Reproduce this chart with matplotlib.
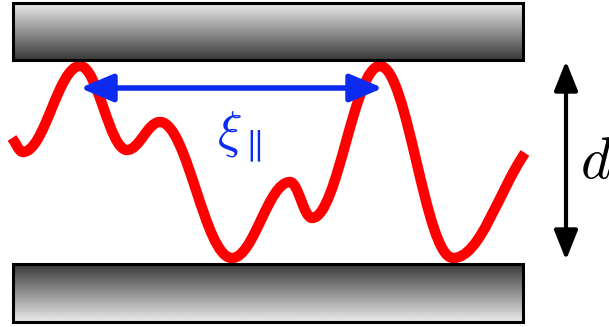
import numpy as np
import matplotlib.pyplot as plt
from matplotlib.path import Path
from matplotlib.patches import PathPatch, Rectangle, FancyArrowPatch

plt.rcParams['mathtext.fontset'] = 'cm'

# extrema of the red chain, in image pixels (y grows downwards)
curve_x = [12, 23, 80, 127, 160, 232, 290, 312, 380, 453, 525]
curve_y = [138, 152, 66, 150, 122, 258, 182, 218, 66, 258, 153]

# plate boxes: (left, top, right, bottom)
top_plate = (13, 3, 523, 60)
bottom_plate = (13, 264, 523, 322)

# arrows
xi_start, xi_end, xi_y = 80, 383, 88
d_x, d_top, d_bottom = 566, 61, 260

red = '#ff0000'
blue = '#0b2cf0'

fig = plt.figure(figsize=(6.09, 3.27), dpi=100)
ax = fig.add_axes([0, 0, 1, 1])


def slope(i):
    # horizontal tangent at interior extrema, chord slope at the two ends
    n = len(curve_x)
    if i == 0:
        return (curve_y[1] - curve_y[0]) / (curve_x[1] - curve_x[0])
    if i == n - 1:
        return (curve_y[-1] - curve_y[-2]) / (curve_x[-1] - curve_x[-2])
    return 0.0


k = 0.38
verts = [(curve_x[0], curve_y[0])]
codes = [Path.MOVETO]
for i in range(len(curve_x) - 1):
    x0, y0 = curve_x[i], curve_y[i]
    x1, y1 = curve_x[i + 1], curve_y[i + 1]
    h = k * (x1 - x0)
    verts += [(x0 + h, y0 + slope(i) * h),
              (x1 - h, y1 - slope(i + 1) * h),
              (x1, y1)]
    codes += [Path.CURVE4] * 3

chain = PathPatch(Path(verts, codes), facecolor='none', edgecolor=red,
                  lw=7.5, capstyle='butt', joinstyle='round', zorder=2)
ax.add_patch(chain)

# plates with grey gradient
grad = np.linspace(0.92, 0.22, 256).reshape(-1, 1)
for (l, t, r, b), g in [(top_plate, grad), (bottom_plate, grad[::-1])]:
    ax.imshow(g, cmap='gray', vmin=0, vmax=1, extent=(l, r, b, t),
              origin='upper', aspect='auto', interpolation='bilinear', zorder=3)
    ax.add_patch(Rectangle((l, t), r - l, b - t, facecolor='none',
                           edgecolor='black', lw=2.2, zorder=4))

# correlation length arrow
ax.add_patch(FancyArrowPatch((xi_start, xi_y), (xi_end, xi_y),
                             arrowstyle='<|-|>,head_length=1.0,head_width=0.42',
                             mutation_scale=20, color=blue, lw=4,
                             shrinkA=0, shrinkB=0, zorder=5))
ax.text(239, 137, r'$\xi_{\parallel}$', color=blue, fontsize=37,
        ha='center', va='center', zorder=6)

# plate separation arrow
ax.add_patch(FancyArrowPatch((d_x, d_bottom), (d_x, d_top),
                             arrowstyle='<|-|>,head_length=1.0,head_width=0.4',
                             mutation_scale=18, color='black', lw=3,
                             shrinkA=0, shrinkB=0, zorder=5))
ax.text(580, 178, r'$d$', color='black', fontsize=42,
        ha='left', va='baseline')

ax.set_xlim(0, 609)
ax.set_ylim(327, 0)
ax.axis('off')

fig.savefig('out.png', dpi=100)
